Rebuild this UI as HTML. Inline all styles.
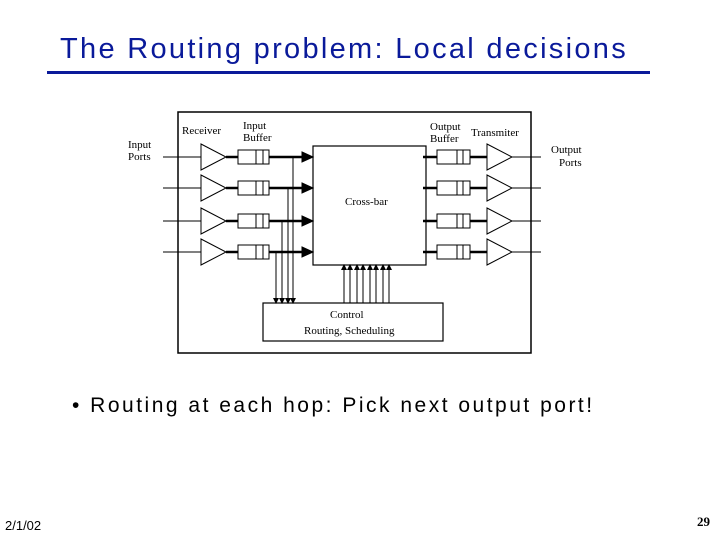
<!DOCTYPE html>
<html><head><meta charset="utf-8"><style>
body{margin:0;width:720px;height:540px;background:#fff;position:relative;overflow:hidden;font-family:"Liberation Sans",sans-serif}
.t{position:absolute;white-space:nowrap}
</style></head><body>
<div class="t" style="left:60px;top:33px;font-size:29px;color:#0a1a9a;letter-spacing:2.3px">The Routing problem: Local decisions</div>
<div style="position:absolute;left:47px;top:71px;width:603px;height:3px;background:#0a1a9a"></div>
<div class="t" style="left:72px;top:394px;font-size:21px;color:#000;letter-spacing:2.5px">• Routing at each hop: Pick next output port!</div>
<div class="t" style="left:5px;top:518px;font-size:13px;color:#000">2/1/02</div>
<div class="t" style="left:697px;top:514px;font-size:13px;font-weight:bold;font-family:'Liberation Serif',serif;color:#000">29</div>
<svg width="720" height="540" style="position:absolute;left:0;top:0" font-family="Liberation Serif, serif" font-size="11">
<defs><marker id="a" markerWidth="6" markerHeight="6" refX="5" refY="3" orient="auto" markerUnits="userSpaceOnUse"><path d="M0,0L6,3L0,6z" fill="#000"/></marker>
<g id="r" stroke="#000" fill="none">
<line x1="163" y1="0" x2="201" y2="0" stroke-width="1"/>
<path d="M201,-13L226,0L201,13z" stroke-width="1"/>
<line x1="226" y1="0" x2="238" y2="0" stroke-width="2.5"/>
<rect x="238" y="-7" width="31" height="14" stroke-width="1"/>
<line x1="256" y1="-7" x2="256" y2="7"/><line x1="263" y1="-7" x2="263" y2="7"/>
<line x1="269" y1="0" x2="302" y2="0" stroke-width="2.5"/>
<path d="M302,-5L313,0L302,5z" fill="#000"/>
<line x1="423" y1="0" x2="437" y2="0" stroke-width="2.5"/>
<rect x="437" y="-7" width="33" height="14" stroke-width="1"/>
<line x1="457" y1="-7" x2="457" y2="7"/><line x1="463" y1="-7" x2="463" y2="7"/>
<line x1="470" y1="0" x2="487" y2="0" stroke-width="2.5"/>
<path d="M487,-13L512,0L487,13z" stroke-width="1"/>
<line x1="512" y1="0" x2="541" y2="0" stroke-width="1"/>
</g>
</defs>
<rect x="178" y="112" width="353" height="241" fill="none" stroke="#000" stroke-width="1.5"/>
<rect x="313" y="146" width="113" height="119" fill="none" stroke="#000" stroke-width="1.2"/>
<rect x="263" y="303" width="180" height="38" fill="none" stroke="#000" stroke-width="1.2"/>
<text x="182" y="134">Receiver</text>
<text x="243" y="129">Input</text><text x="243" y="141">Buffer</text>
<text x="128" y="148">Input</text><text x="128" y="160">Ports</text>
<text x="430" y="130">Output</text><text x="430" y="142">Buffer</text>
<text x="471" y="136">Transmiter</text>
<text x="551" y="153">Output</text><text x="559" y="166">Ports</text>
<text x="345" y="205">Cross-bar</text>
<text x="330" y="318">Control</text>
<text x="304" y="334">Routing, Scheduling</text>
<g stroke="#000" fill="none">
<use href="#r" transform="translate(0,157)"/>
<use href="#r" transform="translate(0,188)"/>
<use href="#r" transform="translate(0,221)"/>
<use href="#r" transform="translate(0,252)"/>
<line x1="293" y1="157" x2="293" y2="303" marker-end="url(#a)"/>
<line x1="288" y1="188" x2="288" y2="303" marker-end="url(#a)"/>
<line x1="282" y1="221" x2="282" y2="303" marker-end="url(#a)"/>
<line x1="276" y1="252" x2="276" y2="303" marker-end="url(#a)"/>
<line x1="344" y1="303" x2="344" y2="265" marker-end="url(#a)"/>
<line x1="350" y1="303" x2="350" y2="265" marker-end="url(#a)"/>
<line x1="357" y1="303" x2="357" y2="265" marker-end="url(#a)"/>
<line x1="363" y1="303" x2="363" y2="265" marker-end="url(#a)"/>
<line x1="370" y1="303" x2="370" y2="265" marker-end="url(#a)"/>
<line x1="376" y1="303" x2="376" y2="265" marker-end="url(#a)"/>
<line x1="383" y1="303" x2="383" y2="265" marker-end="url(#a)"/>
<line x1="389" y1="303" x2="389" y2="265" marker-end="url(#a)"/>
</g>
</svg>
</body></html>
